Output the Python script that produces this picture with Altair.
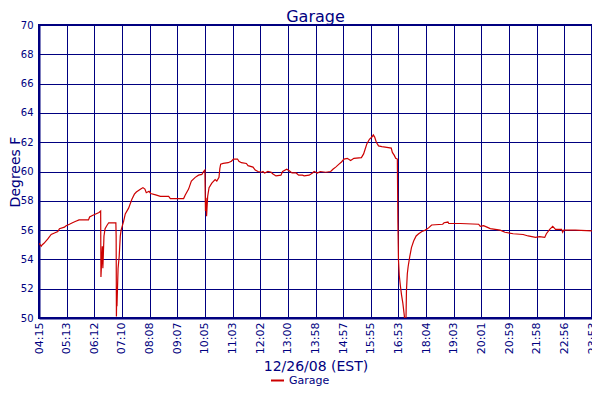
import altair as alt
import pandas as pd

# x tick labels (equally spaced axis positions 0..20)
tick_labels = ["04:15", "05:13", "06:12", "07:10", "08:08", "09:07", "10:05",
               "11:03", "12:02", "13:00", "13:58", "14:57", "15:55", "16:53",
               "18:04", "19:03", "20:01", "20:59", "21:58", "22:56", "23:53"]

# position along the time axis (in tick-interval units) and temperature (deg F)
x_pos = [
    0.00, 0.08, 0.12, 0.18, 0.32, 0.44, 0.56, 0.68, 0.74, 0.92, 0.98, 1.10,
    1.21, 1.33, 1.45, 1.79, 1.83, 1.93, 2.05, 2.17, 2.23, 2.24, 2.29, 2.31,
    2.35, 2.39, 2.45, 2.52, 2.66, 2.78, 2.79, 2.80, 2.81, 2.82, 2.86, 2.90,
    2.94, 2.97, 3.00, 3.06, 3.12, 3.24, 3.36, 3.45, 3.52, 3.68, 3.76, 3.83,
    3.88, 3.98, 4.04, 4.22, 4.39, 4.69, 4.75, 5.23, 5.29, 5.41, 5.51, 5.65,
    5.77, 5.89, 5.95, 6.00, 6.02, 6.04, 6.06, 6.10, 6.15, 6.25, 6.37, 6.43,
    6.51, 6.54, 6.57, 6.66, 6.84, 6.96, 7.03, 7.18, 7.23, 7.32, 7.50, 7.56,
    7.74, 7.82, 7.92, 8.04, 8.10, 8.16, 8.28, 8.40, 8.45, 8.57, 8.75, 8.81,
    8.96, 9.05, 9.15, 9.30, 9.39, 9.53, 9.59, 9.77, 9.89, 9.95, 10.07, 10.17,
    10.37, 10.55, 10.63, 10.73, 10.85, 10.94, 11.03, 11.15, 11.27, 11.39,
    11.66, 11.74, 11.80, 11.86, 11.95, 12.04, 12.09, 12.14, 12.20, 12.28,
    12.40, 12.58, 12.74, 12.78, 12.85, 12.90, 12.96, 12.98, 13.00, 13.03,
    13.07, 13.11, 13.16, 13.21, 13.24, 13.27, 13.29, 13.32, 13.35, 13.41,
    13.47, 13.55, 13.64, 13.73, 13.85, 13.97, 14.09, 14.20, 14.60, 14.65,
    14.79, 14.82, 15.24, 15.90, 15.96, 16.08, 16.20, 16.32, 16.68, 16.85,
    17.15, 17.51, 17.69, 17.96, 18.10, 18.29, 18.35, 18.47, 18.58, 18.68,
    18.90, 18.94, 18.98, 19.40, 20.00]

temps = [
    55.1, 54.9, 55.0, 55.1, 55.4, 55.7, 55.8, 55.9, 56.1, 56.2, 56.3, 56.4,
    56.5, 56.6, 56.7, 56.7, 56.9, 57.0, 57.1, 57.2, 57.3, 52.8, 54.9, 53.4,
    55.6, 56.1, 56.3, 56.5, 56.5, 56.5, 55.6, 50.1, 51.5, 50.8, 53.4, 54.2,
    55.6, 56.0, 56.2, 56.6, 57.1, 57.5, 58.1, 58.45, 58.6, 58.8, 58.9, 58.8,
    58.55, 58.65, 58.5, 58.4, 58.3, 58.3, 58.15, 58.15, 58.4, 58.8, 59.35,
    59.6, 59.75, 59.8, 60.0, 60.1, 57.3, 58.2, 56.95, 58.3, 58.9, 59.2,
    59.45, 59.35, 59.6, 60.2, 60.5, 60.55, 60.6, 60.7, 60.85, 60.85, 60.7,
    60.6, 60.55, 60.4, 60.3, 60.1, 60.0, 59.95, 60.0, 59.9, 60.0, 59.95,
    59.85, 59.7, 59.75, 60.0, 60.15, 60.05, 59.9, 59.9, 59.75, 59.75, 59.7,
    59.75, 59.9, 60.0, 59.9, 60.0, 59.95, 60.0, 60.15, 60.3, 60.5, 60.65,
    60.85, 60.9, 60.75, 60.9, 60.95, 61.2, 61.55, 61.9, 62.2, 62.35, 62.5,
    62.35, 62.0, 61.75, 61.7, 61.65, 61.6, 61.3, 61.1, 60.9, 60.85, 56.5,
    54.0, 52.9, 52.2, 51.6, 51.0, 50.2, 49.5, 49.6, 51.9, 53.0, 53.5, 54.2,
    54.8, 55.25, 55.6, 55.75, 55.9, 56.0, 56.15, 56.35, 56.4, 56.5, 56.55,
    56.45, 56.45, 56.4, 56.25, 56.3, 56.2, 56.1, 56.0, 55.85, 55.75, 55.7,
    55.6, 55.5, 55.55, 55.5, 55.75, 56.05, 56.25, 56.05, 56.05, 55.85, 56.0,
    56.0, 55.95]

series_name = "Garage"
y_ticks = [50, 52, 54, 56, 58, 60, 62, 64, 66, 68, 70]

df = pd.DataFrame({"pos": x_pos, "temp": temps, "series": [series_name] * len(x_pos)})

NAVY = "#000080"
RED = "#cc0000"
FONT = "DejaVu Sans"

label_expr = "[" + ",".join("'%s'" % t for t in tick_labels) + "][datum.value]"

W, H = 553, 293

chart = alt.Chart(df).mark_line(clip=True, strokeWidth=1.2).encode(
    x=alt.X("pos:Q",
            scale=alt.Scale(domain=[0, len(tick_labels) - 1], nice=False, zero=False),
            axis=alt.Axis(values=list(range(len(tick_labels))), labelExpr=label_expr,
                          labelAngle=270, labelAlign="right", labelBaseline="middle",
                          labelPadding=4, ticks=False, labelOverlap=False,
                          grid=True, gridColor=NAVY, gridWidth=1, gridOpacity=1,
                          domainColor=NAVY, domainWidth=2,
                          labelColor=NAVY, labelFont=FONT, labelFontSize=11,
                          title="12/26/08 (EST)", titleFont=FONT, titleFontSize=14,
                          titleFontWeight="normal", titleColor=NAVY,
                          titleX=W / 2, titleY=52, titleAlign="center",
                          titleBaseline="alphabetic")),
    y=alt.Y("temp:Q",
            scale=alt.Scale(domain=[50, 70], nice=False, zero=False),
            axis=alt.Axis(values=y_ticks, ticks=False, labelPadding=6,
                          grid=True, gridColor=NAVY, gridWidth=1, gridOpacity=1,
                          domainColor=NAVY, domainWidth=2,
                          labelColor=NAVY, labelFont=FONT, labelFontSize=10,
                          title="Degrees F", titleFont=FONT, titleFontSize=14,
                          titleFontWeight="normal", titleColor=NAVY,
                          titleAngle=270, titleX=-20, titleY=H / 2,
                          titleAlign="center", titleBaseline="alphabetic")),
    color=alt.Color("series:N",
                    scale=alt.Scale(range=[RED]),
                    legend=alt.Legend(title=None, orient="none", legendX=231, legendY=348,
                                      symbolType="stroke", symbolSize=169,
                                      symbolStrokeWidth=2, padding=0, labelOffset=4,
                                      labelFont=FONT, labelFontSize=11, labelColor=NAVY))
).properties(
    width=W, height=H,
    title=alt.TitleParams("Garage", font=FONT, fontSize=16, fontWeight="normal",
                          color=NAVY, anchor="middle", offset=1, dy=6),
    autosize=alt.AutoSizeParams(type="none"),
    padding={"left": 31, "top": 17, "right": 0, "bottom": 68},
).configure_view(stroke=NAVY, strokeWidth=2)

chart.save("out.html", embed_options={"renderer": "svg", "actions": False})
